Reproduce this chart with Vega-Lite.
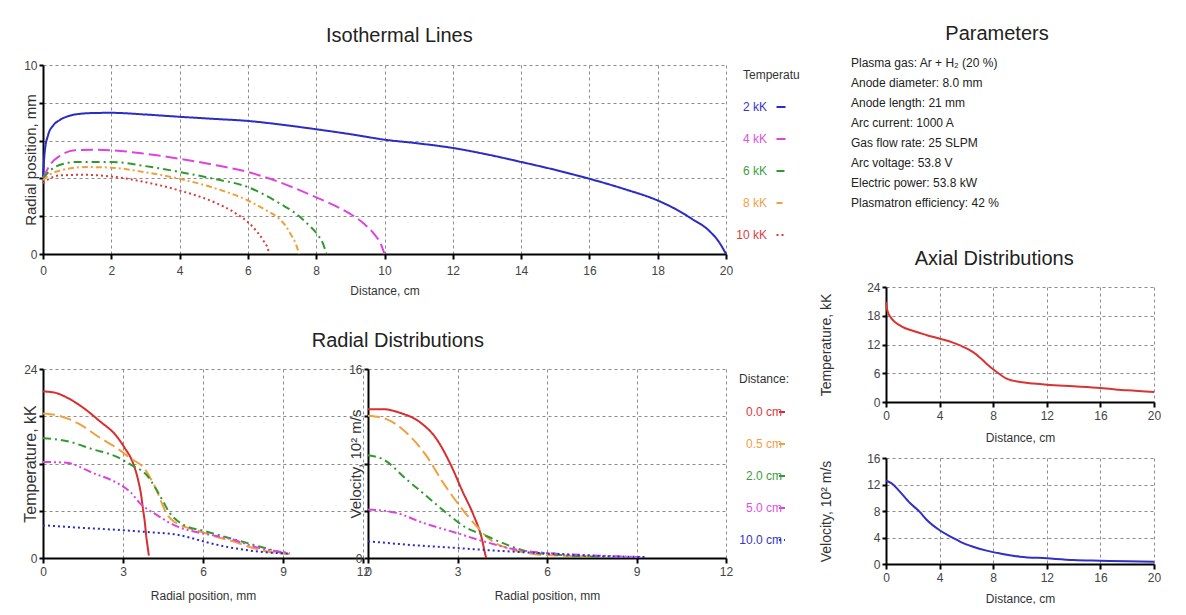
{
  "$schema": "https://vega.github.io/schema/vega-lite/v6.json",
  "padding": {"left": 22, "top": 24, "right": 0, "bottom": 0},
  "background": "white",
  "config": {
    "font": "Liberation Sans",
    "view": {"stroke": null},
    "axis": {
      "domainColor": "#000", "domainWidth": 2,
      "tickColor": "#000", "tickWidth": 2, "tickSize": 5,
      "gridColor": "#8c8c8c", "gridDash": [3, 3], "gridWidth": 1,
      "labelFont": "Liberation Sans", "labelFontSize": 12, "labelColor": "#444", "labelPadding": 6, "labelFlush": false,
      "titleFont": "Liberation Sans", "titleFontWeight": "normal", "titleColor": "#333", "titleFontSize": 12
    },
    "axisY": {"titleFontSize": 15, "tickSize": 4, "labelPadding": 2},
    "legend": {
      "orient": "right", "padding": 5, "titleFont": "Liberation Sans", "titleFontSize": 12, "titleFontWeight": "normal", "titleColor": "#333",
      "labelFont": "Liberation Sans", "labelFontSize": 12, "labelAlign": "right", "symbolType": "stroke", "symbolStrokeWidth": 2,
      "rowPadding": 20, "titlePadding": 20
    },
    "title": {"font": "Liberation Sans", "fontSize": 20, "fontWeight": "normal", "color": "#222"}
  },
  "datasets": {
    "iso": [
      {"isotherm": "2 kK", "distance": 0, "radius": 4.1}, {"isotherm": "2 kK", "distance": 0.05, "radius": 5.4}, {"isotherm": "2 kK", "distance": 0.15, "radius": 6.3}, {"isotherm": "2 kK", "distance": 0.3, "radius": 6.8}, {"isotherm": "2 kK", "distance": 0.5, "radius": 7.1}, {"isotherm": "2 kK", "distance": 0.7, "radius": 7.27}, {"isotherm": "2 kK", "distance": 1, "radius": 7.4}, {"isotherm": "2 kK", "distance": 1.5, "radius": 7.46}, {"isotherm": "2 kK", "distance": 2, "radius": 7.47}, {"isotherm": "2 kK", "distance": 3, "radius": 7.38}, {"isotherm": "2 kK", "distance": 4, "radius": 7.26}, {"isotherm": "2 kK", "distance": 5, "radius": 7.15}, {"isotherm": "2 kK", "distance": 6, "radius": 7.04}, {"isotherm": "2 kK", "distance": 7, "radius": 6.84}, {"isotherm": "2 kK", "distance": 8, "radius": 6.6}, {"isotherm": "2 kK", "distance": 9, "radius": 6.34}, {"isotherm": "2 kK", "distance": 10, "radius": 6.05}, {"isotherm": "2 kK", "distance": 11, "radius": 5.85}, {"isotherm": "2 kK", "distance": 12, "radius": 5.61}, {"isotherm": "2 kK", "distance": 13, "radius": 5.27}, {"isotherm": "2 kK", "distance": 14, "radius": 4.87}, {"isotherm": "2 kK", "distance": 15, "radius": 4.45}, {"isotherm": "2 kK", "distance": 16, "radius": 3.98}, {"isotherm": "2 kK", "distance": 17, "radius": 3.45}, {"isotherm": "2 kK", "distance": 18, "radius": 2.83}, {"isotherm": "2 kK", "distance": 18.5, "radius": 2.4}, {"isotherm": "2 kK", "distance": 19, "radius": 1.86}, {"isotherm": "2 kK", "distance": 19.5, "radius": 1.24}, {"isotherm": "2 kK", "distance": 19.8, "radius": 0.62}, {"isotherm": "2 kK", "distance": 20, "radius": 0},
      {"isotherm": "4 kK", "distance": 0, "radius": 4.0}, {"isotherm": "4 kK", "distance": 0.2, "radius": 4.7}, {"isotherm": "4 kK", "distance": 0.5, "radius": 5.2}, {"isotherm": "4 kK", "distance": 0.93, "radius": 5.49}, {"isotherm": "4 kK", "distance": 1.5, "radius": 5.52}, {"isotherm": "4 kK", "distance": 2, "radius": 5.49}, {"isotherm": "4 kK", "distance": 3, "radius": 5.3}, {"isotherm": "4 kK", "distance": 4, "radius": 5.04}, {"isotherm": "4 kK", "distance": 5, "radius": 4.72}, {"isotherm": "4 kK", "distance": 6, "radius": 4.34}, {"isotherm": "4 kK", "distance": 7, "radius": 3.75}, {"isotherm": "4 kK", "distance": 8, "radius": 3.0}, {"isotherm": "4 kK", "distance": 8.5, "radius": 2.6}, {"isotherm": "4 kK", "distance": 9, "radius": 2.12}, {"isotherm": "4 kK", "distance": 9.4, "radius": 1.6}, {"isotherm": "4 kK", "distance": 9.7, "radius": 1.05}, {"isotherm": "4 kK", "distance": 9.9, "radius": 0.5}, {"isotherm": "4 kK", "distance": 10, "radius": 0},
      {"isotherm": "6 kK", "distance": 0, "radius": 4.0}, {"isotherm": "6 kK", "distance": 0.2, "radius": 4.4}, {"isotherm": "6 kK", "distance": 0.4, "radius": 4.65}, {"isotherm": "6 kK", "distance": 1, "radius": 4.87}, {"isotherm": "6 kK", "distance": 2, "radius": 4.87}, {"isotherm": "6 kK", "distance": 3, "radius": 4.65}, {"isotherm": "6 kK", "distance": 4, "radius": 4.34}, {"isotherm": "6 kK", "distance": 5, "radius": 3.98}, {"isotherm": "6 kK", "distance": 6, "radius": 3.54}, {"isotherm": "6 kK", "distance": 7, "radius": 2.6}, {"isotherm": "6 kK", "distance": 7.35, "radius": 2.21}, {"isotherm": "6 kK", "distance": 7.8, "radius": 1.5}, {"isotherm": "6 kK", "distance": 8.05, "radius": 1.0}, {"isotherm": "6 kK", "distance": 8.2, "radius": 0.55}, {"isotherm": "6 kK", "distance": 8.3, "radius": 0},
      {"isotherm": "8 kK", "distance": 0, "radius": 3.9}, {"isotherm": "8 kK", "distance": 0.2, "radius": 4.2}, {"isotherm": "8 kK", "distance": 0.5, "radius": 4.42}, {"isotherm": "8 kK", "distance": 1.27, "radius": 4.6}, {"isotherm": "8 kK", "distance": 2, "radius": 4.57}, {"isotherm": "8 kK", "distance": 3, "radius": 4.32}, {"isotherm": "8 kK", "distance": 4, "radius": 3.98}, {"isotherm": "8 kK", "distance": 5, "radius": 3.5}, {"isotherm": "8 kK", "distance": 6, "radius": 2.83}, {"isotherm": "8 kK", "distance": 6.5, "radius": 2.35}, {"isotherm": "8 kK", "distance": 6.86, "radius": 1.95}, {"isotherm": "8 kK", "distance": 7.1, "radius": 1.5}, {"isotherm": "8 kK", "distance": 7.25, "radius": 1.06}, {"isotherm": "8 kK", "distance": 7.4, "radius": 0.55}, {"isotherm": "8 kK", "distance": 7.5, "radius": 0},
      {"isotherm": "10 kK", "distance": 0, "radius": 3.75}, {"isotherm": "10 kK", "distance": 0.2, "radius": 4.0}, {"isotherm": "10 kK", "distance": 0.5, "radius": 4.16}, {"isotherm": "10 kK", "distance": 1.2, "radius": 4.19}, {"isotherm": "10 kK", "distance": 2, "radius": 4.1}, {"isotherm": "10 kK", "distance": 3, "radius": 3.8}, {"isotherm": "10 kK", "distance": 4, "radius": 3.36}, {"isotherm": "10 kK", "distance": 5, "radius": 2.75}, {"isotherm": "10 kK", "distance": 5.6, "radius": 2.2}, {"isotherm": "10 kK", "distance": 6.15, "radius": 1.42}, {"isotherm": "10 kK", "distance": 6.45, "radius": 0.71}, {"isotherm": "10 kK", "distance": 6.6, "radius": 0.18}, {"isotherm": "10 kK", "distance": 6.62, "radius": 0}
    ],
    "radialT": [
      {"distance": "0.0 cm", "r": 0, "T": 21.15}, {"distance": "0.0 cm", "r": 0.44, "T": 21.0}, {"distance": "0.0 cm", "r": 0.88, "T": 20.4}, {"distance": "0.0 cm", "r": 1.5, "T": 19.1}, {"distance": "0.0 cm", "r": 2.12, "T": 17.4}, {"distance": "0.0 cm", "r": 2.75, "T": 15.5}, {"distance": "0.0 cm", "r": 3.06, "T": 14.0}, {"distance": "0.0 cm", "r": 3.37, "T": 12.1}, {"distance": "0.0 cm", "r": 3.56, "T": 10.0}, {"distance": "0.0 cm", "r": 3.68, "T": 8.0}, {"distance": "0.0 cm", "r": 3.75, "T": 6.2}, {"distance": "0.0 cm", "r": 3.82, "T": 4.5}, {"distance": "0.0 cm", "r": 3.87, "T": 2.8}, {"distance": "0.0 cm", "r": 3.93, "T": 1.3}, {"distance": "0.0 cm", "r": 3.97, "T": 0.3},
      {"distance": "0.5 cm", "r": 0, "T": 18.35}, {"distance": "0.5 cm", "r": 0.62, "T": 18.05}, {"distance": "0.5 cm", "r": 1.37, "T": 17.0}, {"distance": "0.5 cm", "r": 2.12, "T": 15.3}, {"distance": "0.5 cm", "r": 2.75, "T": 14.0}, {"distance": "0.5 cm", "r": 3.25, "T": 12.74}, {"distance": "0.5 cm", "r": 3.87, "T": 11.05}, {"distance": "0.5 cm", "r": 4.05, "T": 10.0}, {"distance": "0.5 cm", "r": 4.25, "T": 8.7}, {"distance": "0.5 cm", "r": 4.45, "T": 7.0}, {"distance": "0.5 cm", "r": 4.62, "T": 5.73}, {"distance": "0.5 cm", "r": 4.85, "T": 4.8}, {"distance": "0.5 cm", "r": 5.12, "T": 4.25}, {"distance": "0.5 cm", "r": 5.87, "T": 3.4}, {"distance": "0.5 cm", "r": 6.5, "T": 2.7}, {"distance": "0.5 cm", "r": 7.12, "T": 2.12}, {"distance": "0.5 cm", "r": 7.75, "T": 1.4}, {"distance": "0.5 cm", "r": 8.37, "T": 0.85}, {"distance": "0.5 cm", "r": 9.25, "T": 0.5},
      {"distance": "2.0 cm", "r": 0, "T": 15.2}, {"distance": "2.0 cm", "r": 0.87, "T": 14.87}, {"distance": "2.0 cm", "r": 1.87, "T": 13.8}, {"distance": "2.0 cm", "r": 2.75, "T": 12.87}, {"distance": "2.0 cm", "r": 3.37, "T": 11.7}, {"distance": "2.0 cm", "r": 3.87, "T": 10.6}, {"distance": "2.0 cm", "r": 4.25, "T": 8.7}, {"distance": "2.0 cm", "r": 4.5, "T": 7.2}, {"distance": "2.0 cm", "r": 4.75, "T": 5.73}, {"distance": "2.0 cm", "r": 5.05, "T": 4.7}, {"distance": "2.0 cm", "r": 5.37, "T": 4.04}, {"distance": "2.0 cm", "r": 5.97, "T": 3.5}, {"distance": "2.0 cm", "r": 6.5, "T": 3.0}, {"distance": "2.0 cm", "r": 6.97, "T": 2.55}, {"distance": "2.0 cm", "r": 7.87, "T": 1.7}, {"distance": "2.0 cm", "r": 8.5, "T": 1.1}, {"distance": "2.0 cm", "r": 9.0, "T": 0.64},
      {"distance": "5.0 cm", "r": 0, "T": 12.2}, {"distance": "5.0 cm", "r": 0.87, "T": 12.1}, {"distance": "5.0 cm", "r": 1.87, "T": 10.8}, {"distance": "5.0 cm", "r": 2.87, "T": 9.35}, {"distance": "5.0 cm", "r": 3.3, "T": 8.3}, {"distance": "5.0 cm", "r": 3.62, "T": 7.0}, {"distance": "5.0 cm", "r": 4.25, "T": 5.5}, {"distance": "5.0 cm", "r": 5.0, "T": 4.04}, {"distance": "5.0 cm", "r": 5.87, "T": 3.2}, {"distance": "5.0 cm", "r": 6.5, "T": 2.8}, {"distance": "5.0 cm", "r": 7.12, "T": 2.34}, {"distance": "5.0 cm", "r": 7.6, "T": 1.8}, {"distance": "5.0 cm", "r": 8.12, "T": 1.27}, {"distance": "5.0 cm", "r": 8.7, "T": 0.9}, {"distance": "5.0 cm", "r": 9.25, "T": 0.64},
      {"distance": "10.0 cm", "r": 0, "T": 4.16}, {"distance": "10.0 cm", "r": 1.5, "T": 3.82}, {"distance": "10.0 cm", "r": 3.0, "T": 3.53}, {"distance": "10.0 cm", "r": 4.0, "T": 3.27}, {"distance": "10.0 cm", "r": 5.0, "T": 2.97}, {"distance": "10.0 cm", "r": 5.5, "T": 2.6}, {"distance": "10.0 cm", "r": 6.0, "T": 2.12}, {"distance": "10.0 cm", "r": 6.5, "T": 1.7}, {"distance": "10.0 cm", "r": 7.12, "T": 1.27}, {"distance": "10.0 cm", "r": 7.75, "T": 0.95}, {"distance": "10.0 cm", "r": 8.37, "T": 0.72}, {"distance": "10.0 cm", "r": 9.25, "T": 0.55}
    ],
    "radialV": [
      {"distance": "0.0 cm", "r": 0, "V": 12.6}, {"distance": "0.0 cm", "r": 0.5, "V": 12.6}, {"distance": "0.0 cm", "r": 1.06, "V": 12.3}, {"distance": "0.0 cm", "r": 1.74, "V": 11.5}, {"distance": "0.0 cm", "r": 2.3, "V": 10.06}, {"distance": "0.0 cm", "r": 2.74, "V": 8.07}, {"distance": "0.0 cm", "r": 3.19, "V": 5.52}, {"distance": "0.0 cm", "r": 3.53, "V": 3.68}, {"distance": "0.0 cm", "r": 3.81, "V": 1.7}, {"distance": "0.0 cm", "r": 3.95, "V": 0.14}, {"distance": "0.0 cm", "r": 3.97, "V": 0},
      {"distance": "0.5 cm", "r": 0, "V": 12.04}, {"distance": "0.5 cm", "r": 0.62, "V": 11.76}, {"distance": "0.5 cm", "r": 1.29, "V": 10.6}, {"distance": "0.5 cm", "r": 1.96, "V": 8.64}, {"distance": "0.5 cm", "r": 2.52, "V": 6.37}, {"distance": "0.5 cm", "r": 3.08, "V": 4.39}, {"distance": "0.5 cm", "r": 3.64, "V": 2.69}, {"distance": "0.5 cm", "r": 4.09, "V": 1.56}, {"distance": "0.5 cm", "r": 4.65, "V": 0.85}, {"distance": "0.5 cm", "r": 5.2, "V": 0.5}, {"distance": "0.5 cm", "r": 5.77, "V": 0.28}, {"distance": "0.5 cm", "r": 7.45, "V": 0.14},
      {"distance": "2.0 cm", "r": 0, "V": 8.7}, {"distance": "2.0 cm", "r": 0.5, "V": 8.36}, {"distance": "2.0 cm", "r": 1.29, "V": 6.66}, {"distance": "2.0 cm", "r": 1.96, "V": 5.24}, {"distance": "2.0 cm", "r": 2.63, "V": 3.82}, {"distance": "2.0 cm", "r": 3.3, "V": 2.55}, {"distance": "2.0 cm", "r": 3.86, "V": 1.98}, {"distance": "2.0 cm", "r": 4.65, "V": 1.13}, {"distance": "2.0 cm", "r": 5.32, "V": 0.57}, {"distance": "2.0 cm", "r": 6.33, "V": 0.28}, {"distance": "2.0 cm", "r": 8.0, "V": 0.08},
      {"distance": "5.0 cm", "r": 0, "V": 4.1}, {"distance": "5.0 cm", "r": 0.95, "V": 3.82}, {"distance": "5.0 cm", "r": 1.85, "V": 2.97}, {"distance": "5.0 cm", "r": 2.97, "V": 2.12}, {"distance": "5.0 cm", "r": 3.86, "V": 1.42}, {"distance": "5.0 cm", "r": 4.87, "V": 0.76}, {"distance": "5.0 cm", "r": 6.0, "V": 0.42}, {"distance": "5.0 cm", "r": 7.45, "V": 0.23}, {"distance": "5.0 cm", "r": 9.13, "V": 0.08},
      {"distance": "10.0 cm", "r": 0, "V": 1.42}, {"distance": "10.0 cm", "r": 1.29, "V": 1.13}, {"distance": "10.0 cm", "r": 2.97, "V": 0.85}, {"distance": "10.0 cm", "r": 4.09, "V": 0.65}, {"distance": "10.0 cm", "r": 5.77, "V": 0.42}, {"distance": "10.0 cm", "r": 7.45, "V": 0.2}, {"distance": "10.0 cm", "r": 9.35, "V": 0.08}
    ],
    "axialT": [
      {"z": 0, "T": 20.9}, {"z": 0.1, "T": 19.1}, {"z": 0.42, "T": 17.4}, {"z": 1.04, "T": 16.0}, {"z": 2.29, "T": 14.6}, {"z": 3, "T": 14.0}, {"z": 4.03, "T": 13.2}, {"z": 5, "T": 12.4}, {"z": 5.52, "T": 11.8}, {"z": 6.5, "T": 10.4}, {"z": 7, "T": 9.3}, {"z": 7.5, "T": 8.0}, {"z": 8.26, "T": 6.26}, {"z": 9, "T": 4.87}, {"z": 10, "T": 4.17}, {"z": 11, "T": 3.85}, {"z": 12, "T": 3.6}, {"z": 14, "T": 3.27}, {"z": 16, "T": 2.92}, {"z": 18, "T": 2.43}, {"z": 20, "T": 2.09}
    ],
    "axialV": [
      {"z": 0, "V": 12.6}, {"z": 0.55, "V": 11.97}, {"z": 1, "V": 11.0}, {"z": 1.79, "V": 9.2}, {"z": 2.5, "V": 7.9}, {"z": 3.03, "V": 6.67}, {"z": 4.03, "V": 5.05}, {"z": 5, "V": 3.95}, {"z": 5.52, "V": 3.38}, {"z": 6.5, "V": 2.6}, {"z": 7.5, "V": 2.02}, {"z": 8.5, "V": 1.6}, {"z": 10, "V": 1.11}, {"z": 12, "V": 0.86}, {"z": 14, "V": 0.61}, {"z": 16, "V": 0.5}, {"z": 18, "V": 0.4}, {"z": 20, "V": 0.35}
    ],
    "params": [
      {"line": "Plasma gas: Ar + H₂ (20 %)"},
      {"line": "Anode diameter: 8.0 mm"},
      {"line": "Anode length: 21 mm"},
      {"line": "Arc current: 1000 A"},
      {"line": "Gas flow rate: 25 SLPM"},
      {"line": "Arc voltage: 53.8 V"},
      {"line": "Electric power: 53.8 kW"},
      {"line": "Plasmatron efficiency: 42 %"}
    ]
  },
  "hconcat": [
    {
      "vconcat": [
        {
          "title": {"text": "Isothermal Lines", "anchor": "middle", "frame": "bounds", "dx": -15, "offset": 13},
          "width": 683, "height": 189,
          "data": {"name": "iso"},
          "mark": {"type": "line", "strokeWidth": 2, "interpolate": "monotone"},
          "encoding": {
            "x": {"field": "distance", "type": "quantitative", "scale": {"domain": [0, 20], "nice": false}, "axis": {"title": "Distance, cm", "values": [0, 2, 4, 6, 8, 10, 12, 14, 16, 18, 20], "titlePadding": 9}},
            "y": {"field": "radius", "type": "quantitative", "scale": {"domain": [0, 10], "nice": false}, "axis": {"title": "Radial position, mm", "values": [0, 2, 4, 6, 8, 10], "labelExpr": "datum.value == 0 || datum.value == 10 ? datum.label : ''", "titlePadding": -15}},
            "color": {
              "field": "isotherm", "type": "nominal",
              "scale": {"domain": ["2 kK", "4 kK", "6 kK", "8 kK", "10 kK"], "range": ["#2b2bc6", "#dd44dd", "#2f9a2f", "#f0a03c", "#dd3a3a"]},
              "legend": {
                "title": "Temperature:", "titleLimit": 59, "offset": 8, "labelOffset": -20, "symbolOffset": 32, "symbolSize": 81, "titlePadding": 19,
                "encode": {
                  "title": {"update": {"ellipsis": {"value": "\u200b"}}},
                  "labels": {"update": {"fill": {"signal": "datum.label == '2 kK' ? '#3535c8' : datum.label == '4 kK' ? '#e050e0' : datum.label == '6 kK' ? '#3d9d3d' : datum.label == '8 kK' ? '#f0a048' : '#e04040'"}}}
                }
              }
            },
            "strokeDash": {
              "field": "isotherm", "type": "nominal",
              "scale": {"domain": ["2 kK", "4 kK", "6 kK", "8 kK", "10 kK"], "range": [[1, 0], [12, 5], [8, 4, 2, 4], [6, 3, 2, 3], [2, 3]]}
            }
          }
        },
        {
          "title": {"text": "Radial Distributions", "anchor": "middle", "frame": "bounds", "dx": -11, "offset": 12},
          "bounds": "flush",
          "spacing": 5,
          "resolve": {"scale": {"color": "independent", "strokeDash": "independent"}, "legend": {"color": "independent", "strokeDash": "independent"}},
          "hconcat": [
            {
              "width": 320, "height": 189,
              "data": {"name": "radialT"},
              "mark": {"type": "line", "strokeWidth": 2, "interpolate": "monotone"},
              "encoding": {
                "x": {"field": "r", "type": "quantitative", "scale": {"domain": [0, 12], "nice": false}, "axis": {"title": "Radial position, mm", "values": [0, 3, 6, 9, 12], "titlePadding": 13, "labelPadding": 3}},
                "y": {"field": "T", "type": "quantitative", "scale": {"domain": [0, 24], "nice": false}, "axis": {"title": "Temperature, kK", "values": [0, 6, 12, 18, 24], "labelExpr": "datum.value == 0 || datum.value == 24 ? datum.label : ''", "titlePadding": -15, "titleFontSize": 16}},
                "color": {"field": "distance", "type": "nominal", "scale": {"domain": ["0.0 cm", "0.5 cm", "2.0 cm", "5.0 cm", "10.0 cm"], "range": ["#d92e2e", "#f0a03c", "#2f9a2f", "#dd44dd", "#2b2bc6"]}, "legend": null},
                "strokeDash": {"field": "distance", "type": "nominal", "scale": {"domain": ["0.0 cm", "0.5 cm", "2.0 cm", "5.0 cm", "10.0 cm"], "range": [[1, 0], [12, 5], [8, 4, 2, 4], [8, 3, 2, 3, 2, 3], [2, 3]]}, "legend": null}
              }
            },
            {
              "width": 358, "height": 189,
              "data": {"name": "radialV"},
              "mark": {"type": "line", "strokeWidth": 2, "interpolate": "monotone"},
              "encoding": {
                "x": {"field": "r", "type": "quantitative", "scale": {"domain": [0, 12], "nice": false}, "axis": {"title": "Radial position, mm", "values": [0, 3, 6, 9, 12], "titlePadding": 13, "labelPadding": 3}},
                "y": {"field": "V", "type": "quantitative", "scale": {"domain": [0, 16], "nice": false}, "axis": {"title": "Velocity, 10² m/s", "values": [0, 4, 8, 12, 16], "labelExpr": "datum.value == 0 || datum.value == 16 ? datum.label : ''", "titlePadding": -15, "titleFontSize": 15}},
                "color": {
                  "field": "distance", "type": "nominal",
                  "scale": {"domain": ["0.0 cm", "0.5 cm", "2.0 cm", "5.0 cm", "10.0 cm"], "range": ["#d92e2e", "#f0a03c", "#2f9a2f", "#dd44dd", "#2b2bc6"]},
                  "legend": {
                    "title": "Distance:", "offset": 8, "labelOffset": -6, "symbolOffset": 37, "symbolSize": 36,
                    "encode": {"labels": {"update": {"fill": {"signal": "datum.label == '0.0 cm' ? '#e03a3a' : datum.label == '0.5 cm' ? '#f0a048' : datum.label == '2.0 cm' ? '#3d9d3d' : datum.label == '5.0 cm' ? '#e050e0' : '#3535c8'"}}}}
                  }
                },
                "strokeDash": {"field": "distance", "type": "nominal", "scale": {"domain": ["0.0 cm", "0.5 cm", "2.0 cm", "5.0 cm", "10.0 cm"], "range": [[1, 0], [12, 5], [8, 4, 2, 4], [8, 3, 2, 3, 2, 3], [2, 3]]}}
              }
            }
          ]
        }
      ],
      "spacing": 35,
      "resolve": {"scale": {"color": "independent", "strokeDash": "independent"}, "legend": {"color": "independent", "strokeDash": "independent"}}
    },
    {
      "vconcat": [
        {
          "title": {"text": "Parameters", "anchor": "middle", "frame": "group", "offset": 13},
          "width": 222, "height": 140,
          "data": {"name": "params"},
          "mark": {"type": "text", "align": "left", "baseline": "alphabetic", "fontSize": 12, "color": "#222", "font": "Liberation Sans", "dx": -35, "dy": 2},
          "encoding": {
            "x": {"datum": 0, "type": "quantitative", "scale": {"domain": [0, 1]}, "axis": null},
            "y": {"field": "line", "type": "ordinal", "sort": null, "scale": {"padding": 0}, "axis": null},
            "text": {"field": "line", "type": "nominal"}
          }
        },
        {
          "title": {"text": "Axial Distributions", "anchor": "middle", "frame": "bounds", "dx": 4, "offset": 12},
          "spacing": 9,
          "vconcat": [
            {
              "width": 268, "height": 115,
              "data": {"name": "axialT"},
              "mark": {"type": "line", "strokeWidth": 2, "color": "#d83434", "interpolate": "monotone"},
              "encoding": {
                "x": {"field": "z", "type": "quantitative", "scale": {"domain": [0, 20], "nice": false}, "axis": {"title": "Distance, cm", "values": [0, 4, 8, 12, 16, 20], "titlePadding": 11, "labelPadding": 3}},
                "y": {"field": "T", "type": "quantitative", "scale": {"domain": [0, 24], "nice": false}, "axis": {"title": "Temperature, kK", "values": [0, 6, 12, 18, 24], "titlePadding": 33, "titleFontSize": 14}}
              }
            },
            {
              "width": 268, "height": 106,
              "data": {"name": "axialV"},
              "mark": {"type": "line", "strokeWidth": 2, "color": "#3030c8", "interpolate": "monotone"},
              "encoding": {
                "x": {"field": "z", "type": "quantitative", "scale": {"domain": [0, 20], "nice": false}, "axis": {"title": "Distance, cm", "values": [0, 4, 8, 12, 16, 20], "titlePadding": 10, "labelPadding": 3}},
                "y": {"field": "V", "type": "quantitative", "scale": {"domain": [0, 16], "nice": false}, "axis": {"title": "Velocity, 10² m/s", "values": [0, 4, 8, 12, 16], "titlePadding": 33, "titleFontSize": 14}}
              }
            }
          ]
        }
      ],
      "spacing": 40
    }
  ],
  "spacing": 14,
  "resolve": {"scale": {"color": "independent", "strokeDash": "independent"}, "legend": {"color": "independent", "strokeDash": "independent"}}
}
